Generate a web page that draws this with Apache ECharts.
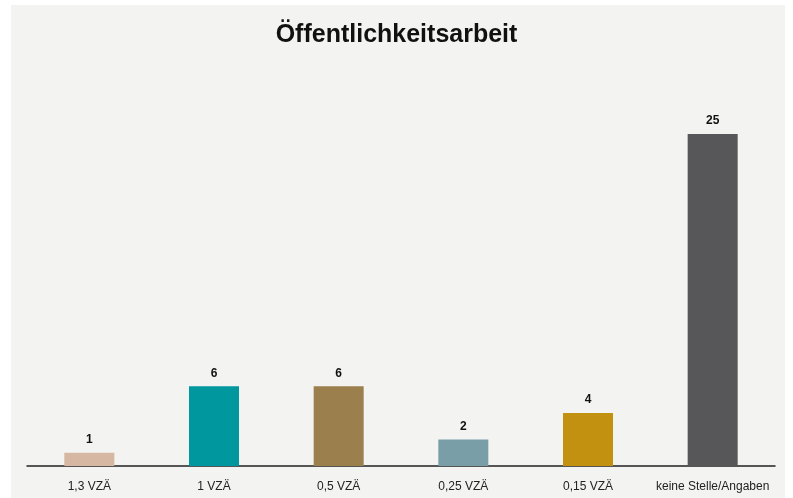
<!DOCTYPE html>
<html>
<head>
<meta charset="utf-8">
<script src="https://cdn.jsdelivr.net/npm/echarts@6/dist/echarts.min.js"></script>
<style>html,body{margin:0;padding:0;background:#fff;}#c{width:793px;height:498px;}</style>
</head>
<body>
<div id="c"></div>
<script>
const categories = ['1,3 VZÄ', '1 VZÄ', '0,5 VZÄ', '0,25 VZÄ', '0,15 VZÄ', 'keine Stelle/Angaben'];
const values = [1, 6, 6, 2, 4, 25];
const colors = ['#d5b7a2', '#00979f', '#9b7f4d', '#799ea7', '#c1910f', '#575759'];

const chart = echarts.init(document.getElementById('c'));
chart.setOption({
  backgroundColor: '#ffffff',
  animation: false,
  graphic: [{
    type: 'rect', left: 11, top: 5, z: -10,
    shape: { width: 774, height: 493 },
    style: { fill: '#f3f3f1' }
  }],
  title: {
    text: 'Öffentlichkeitsarbeit',
    left: 'center', top: 18,
    textStyle: { fontFamily: 'Liberation Sans', fontWeight: 'bold', fontSize: 25, color: '#111' }
  },
  grid: { left: 27, right: 18, top: 134, bottom: 32, containLabel: false },
  xAxis: {
    type: 'category',
    data: categories,
    axisLine: { lineStyle: { color: '#222', width: 1.5 } },
    axisTick: { show: false },
    axisLabel: { color: '#222', fontFamily: 'Liberation Sans', fontSize: 12, margin: 15, interval: 0 }
  },
  yAxis: { type: 'value', min: 0, max: 25, show: false, splitLine: { show: false } },
  series: [{
    type: 'bar',
    barWidth: 50,
    data: values.map((v, i) => ({ value: v, itemStyle: { color: colors[i] } })),
    label: { show: true, position: 'top', distance: 7, color: '#111', fontFamily: 'Liberation Sans', fontWeight: 'bold', fontSize: 12 }
  }]
});
</script>
</body>
</html>
